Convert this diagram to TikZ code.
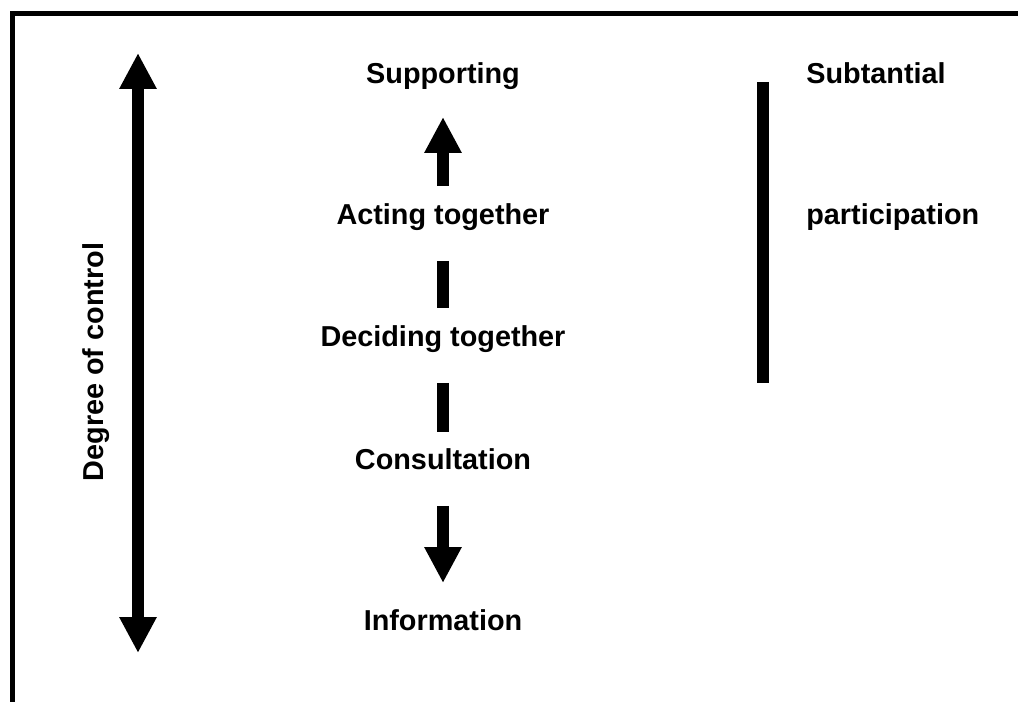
\documentclass[tikz,border=0pt]{standalone}
\usepackage{fontspec}
\setmainfont{Liberation Sans}
\usetikzlibrary{positioning,arrows.meta}
\tikzstyle{level} = [font=\bfseries\fontsize{16.4}{19}\selectfont, inner sep=0pt, anchor=base]
\tikzstyle{side} = [level, anchor=base west]
\tikzstyle{bigline} = [draw, line width=0.24cm]
\tikzstyle{line} = [bigline, -{Triangle[width=0.7cm,length=0.72cm]}]
\tikzstyle{both} = [bigline, {Triangle[width=0.7cm,length=0.72cm]}-{Triangle[width=0.7cm,length=0.72cm]}]

\begin{document}
\begin{tikzpicture}[x=0.02cm, y=-0.02cm]
    \useasboundingbox (0,0) rectangle (1018,702);
    \begin{scope}
    \clip (0,0) rectangle (1018,702);
    \draw [line width=0.1cm] (12.5,720) -- (12.5,13.5) -- (1040,13.5);
    \end{scope}

    % Place nodes
    \node [level] (supporting) at (443,84) {Supporting};
    \node [level] (acting) at (443,225) {Acting together};
    \node [level] (deciding) at (443,347) {Deciding together};
    \node [level] (consultation) at (443,470) {Consultation};
    \node [level] (information) at (443,630) {Information};
    \node [side] (subtantial) at (806,84) {Subtantial};
    \node [side] (participation) at (806,225) {participation};
    \node [level, anchor=center, rotate=90] (degree) at (96,362) {Degree of control};

    % Coordinates for the arrows
    \coordinate (up-a) at (443,186);
    \coordinate (up-b) at (443,117);
    \coordinate (dash1-a) at (443,261);
    \coordinate (dash1-b) at (443,308);
    \coordinate (dash2-a) at (443,383);
    \coordinate (dash2-b) at (443,432);
    \coordinate (down-a) at (443,506);
    \coordinate (down-b) at (443,583);
    \coordinate (ctrl-top) at (138,53);
    \coordinate (ctrl-bot) at (138,653);
    \coordinate (bar-top) at (763,82);
    \coordinate (bar-bot) at (763,383);

    % Draw edges
    \path [line] (up-a) -- (up-b);
    \path [bigline] (dash1-a) -- (dash1-b);
    \path [bigline] (dash2-a) -- (dash2-b);
    \path [line] (down-a) -- (down-b);
    \path [both] (ctrl-bot) -- (ctrl-top);
    \path [bigline] (bar-top) -- (bar-bot);
\end{tikzpicture}
\end{document}
